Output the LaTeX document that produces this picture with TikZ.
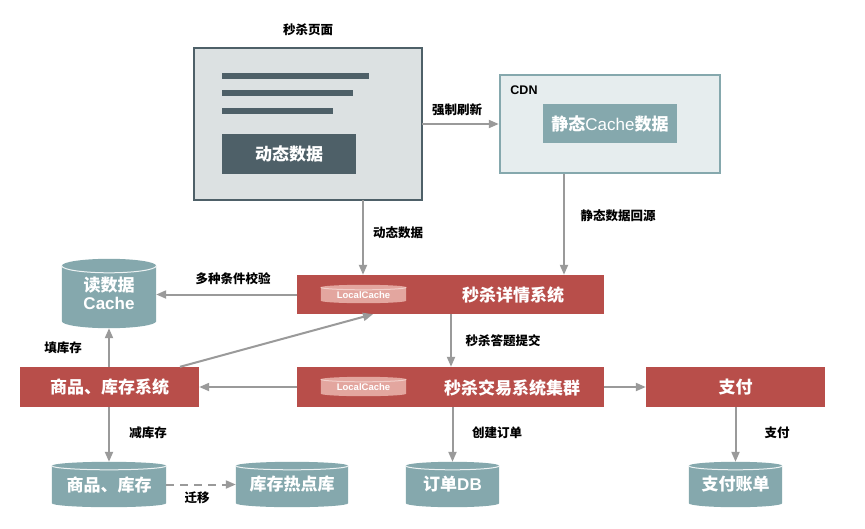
\documentclass[tikz,border=0pt]{standalone}
\usepackage{fontspec}
\setmainfont{Noto Sans CJK SC}
\newfontfamily\lat{Liberation Sans}
\usetikzlibrary{arrows.meta,backgrounds,calc}
\definecolor{redc}{HTML}{B84E4A}
\definecolor{tealc}{HTML}{85A8AD}
\definecolor{slatec}{HTML}{4E6068}
\definecolor{pagefill}{HTML}{DCE1E2}
\definecolor{cdnfill}{HTML}{E6EDEE}
\definecolor{lcfill}{HTML}{E3A69F}
\definecolor{lcline}{HTML}{F2CFCA}
\definecolor{arrc}{HTML}{9A9A9A}
\newcommand\mycylshape[4]{% name, ry(pt), fill, line
  \path[fill=#3] let \p1=(#1.north west), \p2=(#1.south east), \n1={(\x2-\x1)/2} in
    (\x1,\y1-#2pt) -- (\x1,\y2+#2pt) arc[start angle=180,end angle=360,x radius=\n1,y radius=#2pt]
    -- (\x2,\y1-#2pt) arc[start angle=0,end angle=180,x radius=\n1,y radius=#2pt] -- cycle;
  \draw[#4,line width=1pt] let \p1=(#1.north west), \p2=(#1.south east), \n1={(\x2-\x1)/2} in
    (\x1,\y1-#2pt) arc[start angle=180,end angle=360,x radius=\n1,y radius=#2pt];}
\newcommand\mycyl[4]{%
  \begin{scope}[on background layer]\mycylshape{#1}{#2}{#3}{#4}\end{scope}}
\tikzset{
  x=1pt,y=-1pt,
  redbox/.style={fill=redc,draw=none,text=white,font=\fontsize{17}{17}\selectfont\bfseries,inner sep=0pt},
  cylnode/.style={text=white,font=\fontsize{17}{19}\selectfont\bfseries,inner sep=0pt,align=center},
  lcnode/.style={text=white,font=\lat\fontsize{9.5}{9.5}\selectfont\bfseries,inner sep=0pt},
  lbl/.style={text=black,font=\fontsize{12.5}{12.5}\selectfont\bfseries,inner sep=0pt},
  arr/.style={draw=arrc,line width=2pt,-{Triangle[length=10pt,width=8pt]}},
  bar/.style={draw=slatec,line width=6pt},
}
\begin{document}
\begin{tikzpicture}
\useasboundingbox (0,0) rectangle (865,528);
\begin{scope}[on background layer]
\fill[white] (0,0) rectangle (865,528);
\end{scope}
% page
\node[lbl] (pagetitle) at (308,30) {秒杀页面};
\path[fill=pagefill,draw=slatec,line width=2.5pt] (194,48) rectangle (422,200);
\node[inner sep=0pt,minimum width=228pt,minimum height=152pt] (page) at (308,124) {};
\draw[bar] (222,76) -- (369,76);
\draw[bar] (222,93) -- (353,93);
\draw[bar] (222,111) -- (333,111);
\node[fill=slatec,text=white,font=\fontsize{17}{17}\selectfont\bfseries,minimum width=134pt,minimum height=40pt,inner sep=0pt] (dyn) at (289,154) {动态数据};
% CDN
\node[fill=cdnfill,draw=tealc,line width=2.5pt,minimum width=220pt,minimum height=98pt,inner sep=0pt] (cdn) at (610,124) {};
\node[font=\lat\fontsize{12.5}{12.5}\selectfont\bfseries,inner sep=0pt] (cdnlbl) at (524,90) {CDN};
\node[fill=tealc,text=white,font=\fontsize{17}{17}\selectfont\bfseries,minimum width=134pt,minimum height=39pt,inner sep=0pt] (static) at (610,123.5) {静态{\lat\mdseries Cache}数据};
% systems
\node[redbox,minimum width=307pt,minimum height=39pt] (detail) at (450.5,294.5) {};
\node[redbox] (detailtxt) at (513,295) {秒杀详情系统};
\node[lcnode,minimum width=85pt,minimum height=18pt] (lc1) at (363.5,294) {};
\mycylshape{lc1}{2.5}{lcfill}{lcline}
\node[lcnode] (lc1t) at (363.5,295) {LocalCache};
\node[redbox,minimum width=307pt,minimum height=40pt] (trade) at (450.5,387) {};
\node[redbox] (tradetxt) at (512,388) {秒杀交易系统集群};
\node[lcnode,minimum width=85pt,minimum height=19pt] (lc2) at (363.5,386.5) {};
\mycylshape{lc2}{2.5}{lcfill}{lcline}
\node[lcnode] (lc2t) at (363.5,387.5) {LocalCache};
\node[redbox,minimum width=179pt,minimum height=40pt] (goods) at (109.5,387) {商品、库存系统};
\node[redbox,minimum width=179pt,minimum height=40pt] (pay) at (735.5,387) {支付};
% cylinders
\node[cylnode,minimum width=94pt,minimum height=69pt] (rc) at (109,293.5) {\raisebox{-4pt}{\shortstack{读数据\\[1pt]{\lat Cache}}}};
\mycyl{rc}{7}{tealc}{white!85!tealc}
\node[cylnode,minimum width=114pt,minimum height=45pt] (gcyl) at (109,484.5) {\raisebox{-3pt}{商品、库存}};
\mycyl{gcyl}{4}{tealc}{white!85!tealc}
\node[cylnode,minimum width=112pt,minimum height=45pt] (hot) at (292,484.5) {\raisebox{-3pt}{库存热点库}};
\mycyl{hot}{4}{tealc}{white!85!tealc}
\node[cylnode,minimum width=93pt,minimum height=45pt] (odb) at (452.5,484.5) {\raisebox{-3pt}{订单{\lat DB}}};
\mycyl{odb}{4}{tealc}{white!85!tealc}
\node[cylnode,minimum width=93pt,minimum height=45pt] (bill) at (735.5,484.5) {\raisebox{-3pt}{支付账单}};
\mycyl{bill}{4}{tealc}{white!85!tealc}
% helper coordinates
\coordinate (xdyn) at (363,0);
\coordinate (xcdn) at (564,0);
\coordinate (xsub) at (451,0);
\coordinate (xdiag) at (180,0);
\coordinate (xdiagend) at (373,0);
% connectors
\draw[arr] (cdn.west -| page.east) -- (cdn.west);
\draw[arr] (page.south -| xdyn) -- (detail.north -| xdyn);
\draw[arr] (cdn.south -| xcdn) -- (detail.north -| xcdn);
\draw[arr] (detail.west) -- (detail.west -| rc.east);
\draw[arr] (detail.south -| xsub) -- (trade.north -| xsub);
\draw[arr] (trade.west) -- (goods.east);
\draw[arr] (trade.east) -- (pay.west);
\draw[arr] (goods.north -| rc.south) -- (rc.south);
\draw[arr] (goods.north -| xdiag) -- (detail.south -| xdiagend);
\draw[arr] (goods.south -| gcyl.north) -- (gcyl.north);
\draw[arr,dashed,dash pattern=on 8pt off 6pt] (gcyl.east) -- (hot.west);
\draw[arr] (trade.south -| odb.north) -- (odb.north);
\draw[arr] (pay.south) -- (bill.north);
% labels
\node[lbl] (l1) at (457,110) {强制刷新};
\node[lbl] (l2) at (398,233) {动态数据};
\node[lbl] (l3) at (618,216) {静态数据回源};
\node[lbl] (l4) at (233,279) {多种条件校验};
\node[lbl] (l5) at (503,341) {秒杀答题提交};
\node[lbl] (l6) at (63,348) {填库存};
\node[lbl] (l7) at (148,433) {减库存};
\node[lbl] (l8) at (197,498) {迁移};
\node[lbl] (l9) at (497,433) {创建订单};
\node[lbl] (l10) at (777,433) {支付};
\end{tikzpicture}
\end{document}
